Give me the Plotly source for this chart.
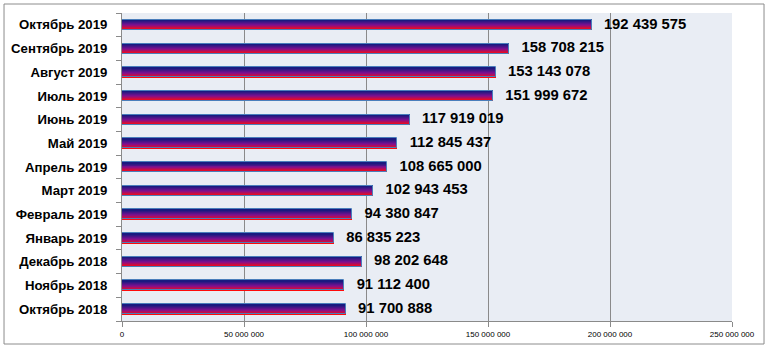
import plotly.graph_objects as go

months = ["Октябрь 2018", "Ноябрь 2018", "Декабрь 2018", "Январь 2019", "Февраль 2019",
          "Март 2019", "Апрель 2019", "Май 2019", "Июнь 2019", "Июль 2019",
          "Август 2019", "Сентябрь 2019", "Октябрь 2019"]
values = [91700888, 91112400, 98202648, 86835223, 94380847,
          102943453, 108665000, 112845437, 117919019, 151999672,
          153143078, 158708215, 192439575]
x_ticks = [0, 50000000, 100000000, 150000000, 200000000, 250000000]
x_ticktext = ["0", "50 000 000", "100 000 000", "150 000 000", "200 000 000", "250 000 000"]

def fmt(v):
    return f"{v:,}".replace(",", " ")

# gradient stops: bottom red -> purple -> navy top
stops = [(255, 10, 10), (128, 16, 144), (26, 26, 128)]
N = 10
W = 0.42

def lerp(a, b, t):
    return tuple(int(round(a[i] + (b[i] - a[i]) * t)) for i in range(3))

fig = go.Figure()
for k in range(N):
    t = k / (N - 1)
    if t <= 0.5:
        c = lerp(stops[0], stops[1], t / 0.5)
    else:
        c = lerp(stops[1], stops[2], (t - 0.5) / 0.5)
    fig.add_trace(go.Bar(
        x=values, y=months, orientation="h",
        width=W / N + 0.002, offset=-W / 2 + k * W / N,
        marker=dict(color="rgb(%d,%d,%d)" % c, line=dict(width=0)),
        hoverinfo="skip", showlegend=False,
    ))
# outline
fig.add_trace(go.Bar(
    x=values, y=months, orientation="h", width=W, offset=-W / 2,
    marker=dict(color="rgba(0,0,0,0)", line=dict(color="#4A7EBB", width=1)),
    hoverinfo="skip", showlegend=False,
))
# value labels
fig.add_trace(go.Scatter(
    x=values, y=months, mode="text",
    text=["<b>   " + fmt(v) + "</b>" for v in values], textposition="middle right",
    textfont=dict(family="Liberation Sans", size=14.8, color="#000000"),
    cliponaxis=False, hoverinfo="skip", showlegend=False,
))

fig.update_layout(
    width=770, height=350,
    margin=dict(l=122, r=38, t=13, b=29),
    paper_bgcolor="#FFFFFF", plot_bgcolor="#E9EDF4",
    barmode="overlay", bargap=0,
    font=dict(family="Liberation Sans", color="#000000"),
    shapes=[dict(type="rect", xref="paper", yref="paper",
                 x0=-0.1934, x1=1.0525, y0=-0.0747, y1=1.0292,
                 line=dict(color="#8C8C8C", width=1), fillcolor="rgba(0,0,0,0)",
                 layer="below")],
)
fig.update_xaxes(
    range=[0, 250000000], tickvals=x_ticks, ticktext=x_ticktext,
    showgrid=True, gridcolor="#8A8A8A", gridwidth=1, zeroline=False,
    showline=True, linecolor="#8A8A8A", linewidth=1,
    ticks="outside", ticklen=5, tickcolor="#8A8A8A",
    tickfont=dict(family="Liberation Sans", size=8, color="#000000"),
)
fig.update_yaxes(
    type="category", categoryorder="array", categoryarray=months,
    range=[-0.5, len(months) - 0.5],
    showgrid=False, zeroline=False,
    showline=True, linecolor="#8A8A8A", linewidth=1,
    ticks="outside", ticklen=5, tickcolor="#8A8A8A", tickson="boundaries",
    tickvals=months, ticktext=["<b>" + m + "</b>" for m in months],
    tickfont=dict(family="Liberation Sans", size=13.2, color="#000000"),
    ticklabelstandoff=11,
)

fig.write_html("out.html")
